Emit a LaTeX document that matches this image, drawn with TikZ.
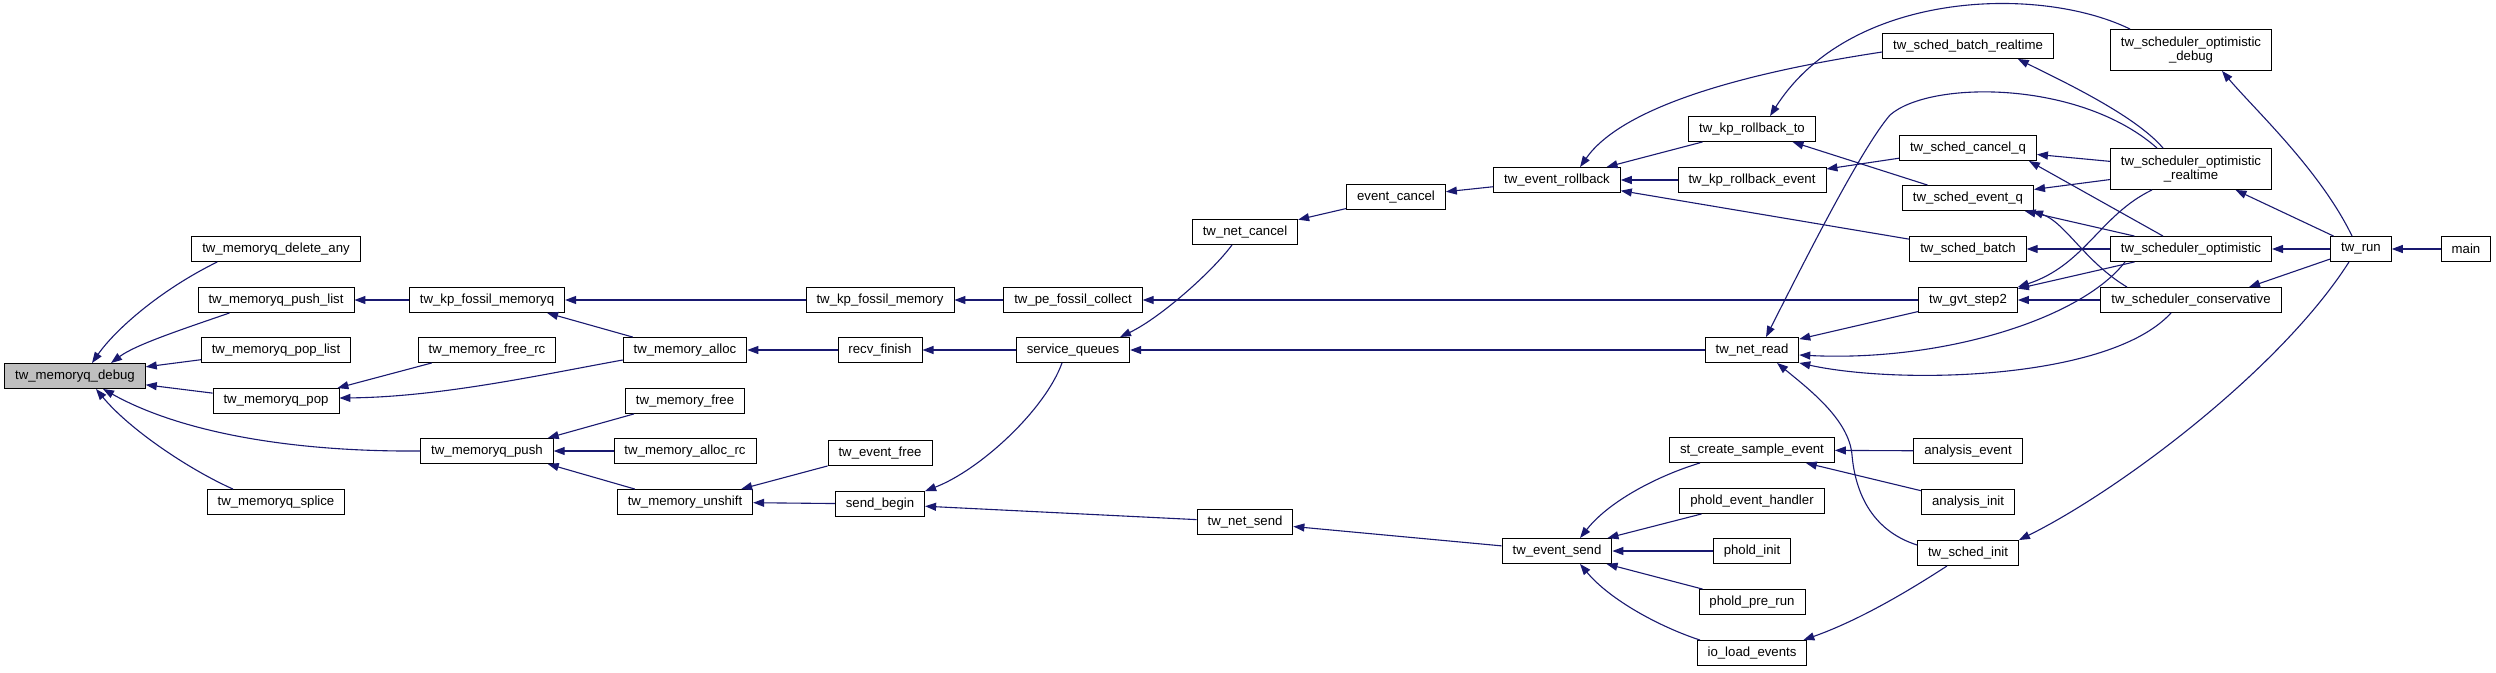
\documentclass[tikz,border=0pt]{standalone}
\usepackage{fontspec}
\setmainfont{Liberation Sans}
\usetikzlibrary{arrows.meta}
\definecolor{edgecol}{HTML}{191970}
\definecolor{dbgfill}{HTML}{BFBFBF}
\newcommand\gfont{\fontsize{13.2}{14.5}\selectfont}
\tikzset{
  fn/.style={draw=black, line width=0.9pt, fill=white, inner xsep=10.5pt, inner ysep=0pt, minimum height=25pt, font=\gfont},
  fn2/.style={fn, minimum height=41pt, align=center},
  cg/.style={draw=edgecol, line width=1.1pt, -{Triangle[length=11pt,width=8pt]}}
}
\begin{document}
\begin{tikzpicture}[x=1pt,y=-1pt]
\useasboundingbox (0,0) rectangle (2496,672);
\fill[white] (0,0) rectangle (2496,672);
% nodes
\node[fn, fill=dbgfill] (debug) at (75,376) {tw\_memoryq\_debug};
\node[fn] (deleteany) at (276,249) {tw\_memoryq\_delete\_any};
\node[fn] (pushlist) at (276,300) {tw\_memoryq\_push\_list};
\node[fn] (poplist) at (276,350) {tw\_memoryq\_pop\_list};
\node[fn] (pop) at (276,401) {tw\_memoryq\_pop};
\node[fn] (splice) at (276,502) {tw\_memoryq\_splice};
\node[fn] (kpfmq) at (487,300) {tw\_kp\_fossil\_memoryq};
\node[fn] (freerc) at (487,350) {tw\_memory\_free\_rc};
\node[fn] (push) at (487,451) {tw\_memoryq\_push};
\node[fn] (alloc) at (685,350) {tw\_memory\_alloc};
\node[fn] (mfree) at (685,401) {tw\_memory\_free};
\node[fn] (allocrc) at (685,451) {tw\_memory\_alloc\_rc};
\node[fn] (unshift) at (685,502) {tw\_memory\_unshift};
\node[fn] (kpfm) at (880,300) {tw\_kp\_fossil\_memory};
\node[fn] (recv) at (880,350) {recv\_finish};
\node[fn] (efree) at (880,453) {tw\_event\_free};
\node[fn] (sendbegin) at (880,504) {send\_begin};
\node[fn] (pefc) at (1073,300) {tw\_pe\_fossil\_collect};
\node[fn] (svcq) at (1073,350) {service\_queues};
\node[fn] (netcancel) at (1245,232) {tw\_net\_cancel};
\node[fn] (netsend) at (1245,522) {tw\_net\_send};
\node[fn] (evcancel) at (1396,197) {event\_cancel};
\node[fn] (evrollback) at (1557,180) {tw\_event\_rollback};
\node[fn] (evsend) at (1557,551) {tw\_event\_send};
\node[fn] (kprbto) at (1752,129) {tw\_kp\_rollback\_to};
\node[fn] (kprbev) at (1752,180) {tw\_kp\_rollback\_event};
\node[fn] (netread) at (1752,350) {tw\_net\_read};
\node[fn] (stcreate) at (1752,450) {st\_create\_sample\_event};
\node[fn] (pheh) at (1752,501) {phold\_event\_handler};
\node[fn] (phinit) at (1752,551) {phold\_init};
\node[fn] (phpre) at (1752,602) {phold\_pre\_run};
\node[fn] (ioload) at (1752,653) {io\_load\_events};
\node[fn] (batchrt) at (1968,46) {tw\_sched\_batch\_realtime};
\node[fn] (cancelq) at (1968,148) {tw\_sched\_cancel\_q};
\node[fn] (eventq) at (1968,198) {tw\_sched\_event\_q};
\node[fn] (schedbatch) at (1968,249) {tw\_sched\_batch};
\node[fn] (gvt) at (1968,300) {tw\_gvt\_step2};
\node[fn] (anevent) at (1968,451) {analysis\_event};
\node[fn] (aninit) at (1968,502) {analysis\_init};
\node[fn] (schedinit) at (1968,553) {tw\_sched\_init};
\node[fn2] (optdebug) at (2191,50) {tw\_scheduler\_optimistic\\\_debug};
\node[fn2] (optrt) at (2191,169) {tw\_scheduler\_optimistic\\\_realtime};
\node[fn] (schedopt) at (2191,249) {tw\_scheduler\_optimistic};
\node[fn] (schedcons) at (2191,300) {tw\_scheduler\_conservative};
\node[fn] (twrun) at (2361,249) {tw\_run};
\node[fn] (main) at (2466,249) {main};
% edges (arrow at callee)
\draw[cg] ([xshift=26pt]deleteany.south west) .. controls (160,290) and (115,330) .. ([xshift=17pt]debug.north);
\draw[cg] ([xshift=32pt]pushlist.south west) .. controls (180,330) and (135,345) .. ([xshift=36pt]debug.north);
\draw[cg] (poplist) -- (debug);
\draw[cg] (pop) -- (debug);
\draw[cg] (push.west) .. controls (290,452) and (180,432) .. ([xshift=28pt]debug.south);
\draw[cg] ([xshift=-43pt]splice.north) .. controls (190,470) and (130,430) .. ([xshift=21pt]debug.south);
\draw[cg] (kpfmq) -- (pushlist);
\draw[cg] (kpfm) -- (kpfmq);
\draw[cg] ([xshift=10pt]alloc.north west) -- ([xshift=-18pt]kpfmq.south east);
\draw[cg] ([xshift=14pt]freerc.south west) -- ([xshift=-2pt]pop.north east);
\draw[cg] ([yshift=-10pt]alloc.west) .. controls (540,375) and (440,397) .. ([yshift=3pt]pop.east);
\draw[cg] ([xshift=9pt]mfree.south west) -- ([xshift=-6pt]push.north east);
\draw[cg] (allocrc) -- (push);
\draw[cg] ([xshift=18pt]unshift.north west) -- ([xshift=-6pt]push.south east);
\draw[cg] (recv) -- (alloc);
\draw[cg] (pefc) -- (kpfm);
\draw[cg] (svcq) -- (recv);
\draw[cg] (gvt) -- (pefc);
\draw[cg] ([xshift=-13pt]netcancel.south) .. controls (1212,272) and (1160,318) .. ([xshift=47pt]svcq.north);
\draw[cg] ([xshift=-11pt]svcq.south) .. controls (1045,410) and (980,470) .. (sendbegin.north east);
\draw[cg] (netread) -- (svcq);
\draw[cg] (efree.south west) -- ([xshift=-12pt]unshift.north east);
\draw[cg] (sendbegin) -- (unshift);
\draw[cg] (netsend) -- (sendbegin);
\draw[cg] (evcancel) -- (netcancel);
\draw[cg] (evrollback) -- (evcancel);
\draw[cg] (evsend) -- (netsend);
\draw[cg] (kprbto) -- (evrollback);
\draw[cg] (kprbev) -- (evrollback);
\draw[cg] (schedbatch) -- (evrollback);
\draw[cg] ([yshift=-6pt]batchrt.west) .. controls (1730,75) and (1620,110) .. ([xshift=23pt]evrollback.north);
\draw[cg] ([xshift=-61pt]optdebug.north) .. controls (2040,-15) and (1850,-10) .. ([xshift=18pt]kprbto.north);
\draw[cg] (eventq) -- (kprbto);
\draw[cg] (cancelq) -- (kprbev);
\draw[cg] (optrt) -- (cancelq);
\draw[cg] ([xshift=-28pt]schedopt.north) -- ([xshift=-8pt]cancelq.south east);
\draw[cg] (optrt) -- (eventq);
\draw[cg] (schedopt) -- (eventq);
\draw[cg] ([xshift=-64pt]schedcons.north) .. controls (2085,262) and (2065,222) .. ([xshift=-2pt]eventq.south east);
\draw[cg] ([xshift=-28pt]optrt.north) .. controls (2135,115) and (2060,80) .. ([xshift=-36pt]batchrt.south east);
\draw[cg] (schedopt) -- (schedbatch);
\draw[cg] ([xshift=-39pt]optrt.south) .. controls (2100,215) and (2085,265) .. (gvt.north east);
\draw[cg] (schedopt) -- (gvt);
\draw[cg] (schedcons) -- (gvt);
\draw[cg] (gvt) -- (netread);
\draw[cg] ([xshift=-34pt]optrt.north) .. controls (2080,80) and (1930,80) .. (1890,115) .. controls (1860,150) and (1800,270) .. ([xshift=14pt]netread.north);
\draw[cg] ([xshift=-66pt]schedopt.south) .. controls (2080,320) and (1940,362) .. ([yshift=-5pt]netread.east);
\draw[cg] ([xshift=-20pt]schedcons.south) .. controls (2110,380) and (1900,385) .. (netread.south east);
\draw[cg] ([yshift=8pt]schedinit.west) .. controls (1870,530) and (1855,490) .. (1852,455) .. controls (1849,420) and (1810,390) .. ([xshift=25pt]netread.south);
\draw[cg] ([xshift=-12pt]twrun.south) .. controls (2280,370) and (2120,490) .. (schedinit.north east);
\draw[cg] ([xshift=-21pt]schedinit.south) .. controls (1910,590) and (1860,620) .. ([xshift=-4pt]ioload.north east);
\draw[cg] (aninit) -- (stcreate);
\draw[cg] (anevent) -- (stcreate);
\draw[cg] ([xshift=-52pt]stcreate.south) .. controls (1660,475) and (1610,500) .. ([xshift=23pt]evsend.north);
\draw[cg] (pheh) -- (evsend);
\draw[cg] (phinit) -- (evsend);
\draw[cg] (phpre) -- (evsend);
\draw[cg] ([xshift=-52pt]ioload.north) .. controls (1660,627) and (1610,600) .. ([xshift=23pt]evsend.south);
\draw[cg] ([xshift=-9pt]twrun.north) .. controls (2320,170) and (2255,110) .. ([xshift=31pt]optdebug.south);
\draw[cg] (twrun) -- (optrt);
\draw[cg] (twrun) -- (schedopt);
\draw[cg] ([yshift=-10pt]twrun.west) -- ([xshift=58pt]schedcons.north);
\draw[cg] (main) -- (twrun);
\end{tikzpicture}
\end{document}
